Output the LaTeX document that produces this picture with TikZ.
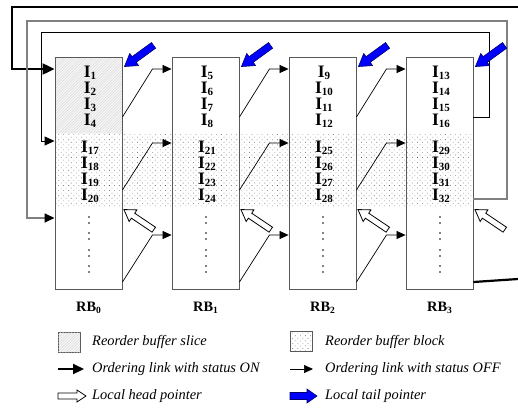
\documentclass[tikz,border=0pt]{standalone}
\usepackage{fontspec}
\setmainfont{Liberation Serif}
\usetikzlibrary{arrows.meta,patterns.meta,calc}

% letter with a lowered, smaller index
\newcommand\isub[3][9.5]{#2\raisebox{-0.35ex}{\fontsize{#1}{#1}\selectfont #3}}
% block arrow: style, tip, angle, length, head length, head half width, shaft half width
\newcommand\blockarrow[7]{%
  \draw[#1,shift={(#2)},rotate=#3] (0,0) -- (-#5,#6) -- (-#5,#7) -- (-#4,#7)
    -- (-#4,-#7) -- (-#5,-#7) -- (-#5,-#6) -- cycle;}

\begin{document}
\begin{tikzpicture}[x=1pt,y=-1pt,
  rbbox/.style={draw=black!65,line width=0.9pt,minimum width=67pt,
    minimum height=232pt,inner sep=0pt},
  ilab/.style={font=\fontsize{17.5}{17.5}\selectfont\bfseries,anchor=base,inner sep=0pt},
  rblab/.style={font=\fontsize{14.4}{15}\selectfont\bfseries,inner sep=0pt},
  legtext/.style={font=\fontsize{14.4}{16}\selectfont\itshape,anchor=west,inner sep=0pt},
  link/.style={line width=0.7pt,-{Triangle[length=9pt,width=8pt]}},
  onlink/.style={line width=2.2pt},
  grayloop/.style={line width=1.5pt,draw=black!50},
  thinloop/.style={line width=1pt},
  slicefill/.style={fill=black!4,postaction={pattern={Lines[angle=45,distance=2pt,line width=0.3pt]},pattern color=black!18}},
  blockfill/.style={fill=white,postaction={pattern={Dots[angle=45,distance=3.6pt,radius=0.42pt]},pattern color=black!70}},
  tailptr/.style={fill=blue,draw=blue!40!black,line width=0.6pt,line join=miter},
  headptr/.style={fill=white,draw=black,line width=0.8pt,line join=miter},
  swatch/.style={draw=black!65,line width=0.8pt,minimum width=22pt,minimum height=20pt,inner sep=0pt}]

\useasboundingbox[fill=white] (0,0) rectangle (518,407);

% dotted reorder-buffer block band and the slice of RB0
\path[blockfill] (55,133) rectangle (472,207);
\path[slicefill] (55,57) rectangle (122,133);

% the four reorder buffers
\foreach \i/\x in {0/88.5,1/205.5,2/322.5,3/439.5}
  \node[rbbox] (rb\i) at (\x,173) {};

% entries of each buffer
\foreach \i in {0,1,2,3}{
  \foreach \k/\ya/\yb in {1/77/152,2/93/168,3/109/184,4/125/200}{
    \pgfmathtruncatemacro{\na}{4*\i+\k}
    \pgfmathtruncatemacro{\nb}{16+4*\i+\k}
    \node[ilab] (ia\na) at ($(rb\i.center |- 0,\ya)+(1.5,0)$) {\isub[11]{I}{\na}};
    \node[ilab] (ib\nb) at ($(rb\i.center |- 0,\yb)+(1.5,0)$) {\isub[11]{I}{\nb}};
  }
  \foreach \yy in {217,223,233,239,250,256,266,272}
    \fill ($(rb\i.center |- 0,\yy)+(0.5,0)$) circle (0.95pt);
  \node[rblab] (lab\i) at (rb\i.center |- 0,308) {\isub{RB}{\bfseries\i}};
}

% ordering links between neighbouring buffers
\foreach \i/\j in {0/1,1/2,2/3}
  \foreach \ya/\yb in {117/69,190/143,282/235}
    \draw[link] (rb\i.east |- 0,\ya) -- ($(rb\i.east |- 0,\yb)+(30,0)$) -- (rb\j.west |- 0,\yb);

% wrap-around links back to RB0
\coordinate (onR) at (518,7);
\coordinate (onL) at (12,7);
\draw[onlink,-{Triangle[length=12pt,width=11pt]}] (onR) -- (onL) |- (rb0.west |- 0,69);
\coordinate (onOut) at (518,279);
\draw[onlink] (rb3.east |- 0,282) -- (onOut);

\coordinate (gR) at (507,21);
\coordinate (gL) at (27,218);
\draw[grayloop,-{Triangle[length=10pt,width=9pt,color=black]}]
  (rb3.east |- 0,199) -| (gR) -| (gL) -- (rb0.west |- 0,218);

\coordinate (tR) at (489,32);
\coordinate (tL) at (41,141);
\draw[thinloop,-{Triangle[length=10pt,width=9pt]}]
  (rb3.east |- 0,117) -| (tR) -| (tL) -- (rb0.west |- 0,141);

% local tail and head pointers
\foreach \i in {0,1,2,3}{
  \coordinate (tp\i) at ($(rb\i.north east)+(2,10)$);
  \coordinate (hp\i) at ($(rb\i.north east)+(1.5,153)$);
  \blockarrow{tailptr}{tp\i}{216}{36}{12}{7.5}{3.5}
  \blockarrow{headptr}{hp\i}{146}{36}{11}{7}{3}
}

% legend
\node[swatch,slicefill] (sw1) at (69,342) {};
\node[legtext] (lt1) at (92,342) {Reorder buffer slice};
\node[swatch,blockfill] (sw2) at (301,341) {};
\node[legtext] (lt2) at (325,342) {Reorder buffer block};

\coordinate (on1) at (58,369);
\coordinate (on2) at (84,369);
\draw[onlink,-{Triangle[length=11pt,width=10pt]}] (on1) -- (on2);
\node[legtext] (lt3) at (92,369) {Ordering link with status ON};
\coordinate (off1) at (290,369);
\coordinate (off2) at (313,369);
\draw[link] (off1) -- (off2);
\node[legtext] (lt4) at (325,369) {Ordering link with status OFF};

\coordinate (hl) at (86,396);
\blockarrow{headptr}{hl}{0}{28}{9}{6}{3}
\node[legtext] (lt5) at (92,396) {Local head pointer};
\coordinate (tl) at (317,396);
\blockarrow{tailptr}{tl}{0}{27}{10}{7}{3.5}
\node[legtext] (lt6) at (325,396) {Local tail pointer};
\end{tikzpicture}
\end{document}
